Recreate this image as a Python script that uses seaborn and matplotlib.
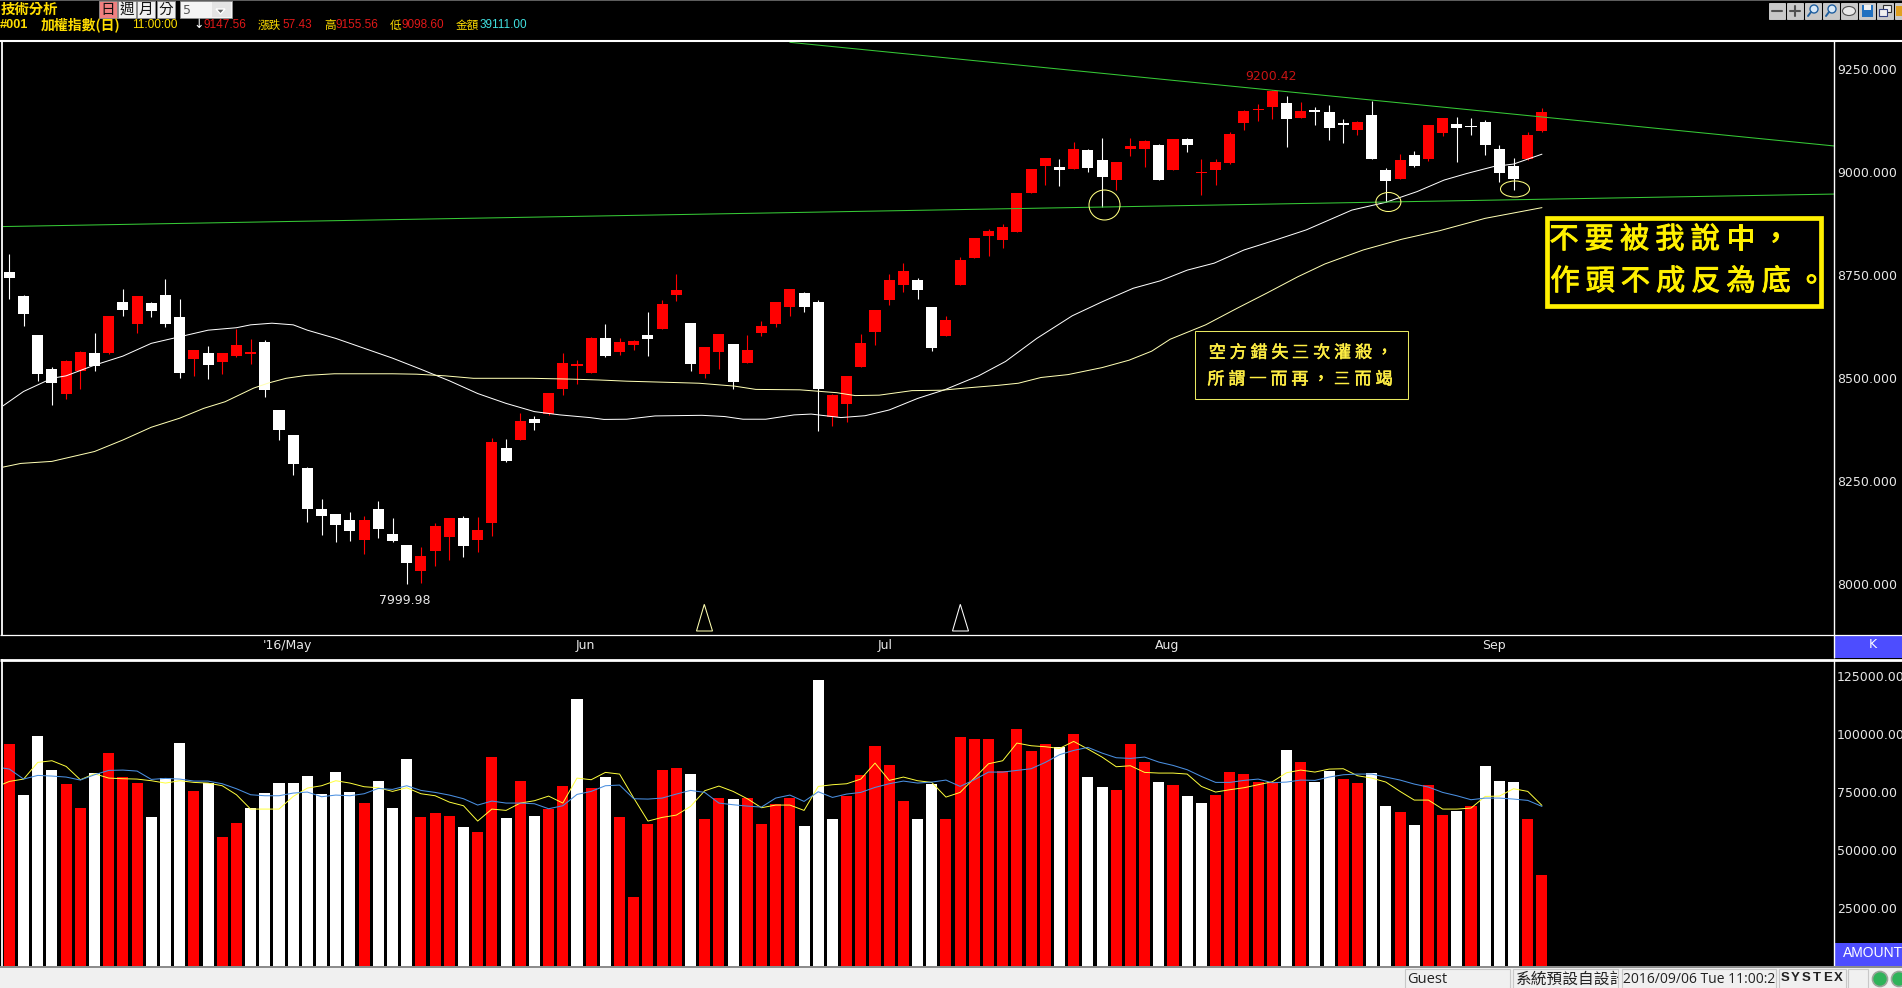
import matplotlib
matplotlib.use("Agg")
import matplotlib.pyplot as plt
import matplotlib.patheffects as pe
from matplotlib.patches import Rectangle, Ellipse, Polygon, Circle
import numpy as np
import pandas as pd
import seaborn as sns

# ---------- data ----------
highs = [8801,8702,8604,8526,8544,8565,8609,8651,8716,8699,8685,8740,8692,8568,8578,8561,8619,8595,8592,8422,8361,8283,8206,8169,8174,8164,8201,8159,8094,8089,8147,8159,8164,8162,8354,8351,8415,8407,8463,8561,8544,8599,8631,8597,8592,
8660,8690,8753,8634,8575,8607,8583,8604,8639,8685,8716,8709,8690,8461,8505,8607,8665,8753,8780,8743,8673,8651,8794,8840,8862,8874,8950,
9008,9035,9032,9074,9057,9083,9025,9083,9079,9069,9081,9083,9032,9032,9098,9151,9166,9200.42,9186,9171,9159,9164,9130,9125,9173,9010,9044,9052,9115,9132,9134,9132,9127,9066,9035,9098,9155.56]
opens = [8758,8699,8604,8522,8461,8517,8561,8561,8685,8631,8682,8702,8648,8546,8561,8539,8553,8558,8587,8422,8361,8281,8181,8169,8155,8106,8181,8120,8094,8030,8079,8113,8159,8106,8147,8330,8349,8400,8412,8473,8529,8512,8597,8563,8580,
8604,8619,8702,8634,8510,8563,8583,8536,8609,8631,8673,8707,8685,8405,8437,8527,8612,8690,8726,8738,8673,8602,8726,8792,8845,8835,8855,
8950,9015,9013,9008,9054,9030,8981,9057,9057,9066,9006,9081,8998,9006,9023,9120,9151,9159,9168,9132,9151,9147,9120,9103,9139,9006,8984,9042,9032,9096,9117,9113,9122,9057,9015,9032,9100]
closes = [8743,8655,8510,8488,8541,8563,8528,8651,8665,8699,8663,8631,8512,8568,8531,8561,8580,8563,8471,8373,8291,8181,8164,8142,8128,8155,8133,8103,8050,8067,8140,8159,8091,8130,8344,8298,8395,8390,8463,8536,8534,8597,8553,8587,8590,
8595,8680,8714,8534,8575,8607,8490,8568,8626,8685,8716,8673,8473,8459,8505,8585,8665,8738,8760,8714,8573,8641,8787,8840,8857,8867,8950,
9008,9035,9006,9057,9010,8988,9025,9064,9076,8981,9081,9066,9001,9025,9093,9149,9154,9198,9130,9149,9147,9108,9115,9122,9032,8979,9030,9015,9115,9132,9108,9110,9066,8998,8984,9091,9147.56]
lows = [8692,8626,8493,8434,8449,8473,8517,8558,8651,8609,8648,8624,8500,8505,8497,8510,8551,8534,8454,8349,8264,8150,8118,8101,8103,8072,8111,8101,7999.98,8001,8043,8057,8065,8077,8116,8296,8349,8373,8410,8458,8485,8512,8551,8556,8568,
8553,8619,8687,8517,8500,8522,8473,8536,8602,8624,8651,8660,8371,8383,8393,8527,8580,8677,8709,8692,8566,8602,8726,8792,8797,8816,8855,
8950,8969,8967,9008,9001,8916,8957,9040,9013,8981,9006,9049,8945,8969,9020,9103,9125,9130,9062,9132,9115,9079,9071,9091,9032,8927,8984,9013,9027,9088,9025,9091,9042,8976,8957,9030,9098.60]

ma_a_x = [.55,2,4,5,7,9,11,13,15,17,18,19.5,21,22,24,26,28,30,32,34,36,38,39.8,41.9,42.9,44.5,46.5,49.8,51.4,52.7,54.3,56.3,57.5,59.6,61.3,63,65,66.9,69.3,71.2,73.4,75.9,78,80.2,82.1,84,85.9,88,90.2,92.4,94,95.6,98,100.2,102.1,103.7,105.6,107,109]
ma_a_y = [8432,8467,8499,8505,8531,8553,8584,8600,8616,8622,8629,8633,8629,8616,8596,8572,8548,8521,8493,8462,8438,8418,8410,8403.5,8399,8399.5,8407.5,8409,8406,8399.5,8399.5,8410,8412,8403.5,8408,8422,8450,8471,8505,8540,8596,8651,8685,8718,8736,8762,8779,8811,8835,8860,8884,8908,8927,8953,8981,8997,9014,9020,9044]
ma_b_x = [.55,1.8,4,7,9,11,13,14.7,16.2,18.2,19.3,20.5,21.9,23.9,28,29.7,31.7,33.7,37.8,40.6,42.5,44.5,47.6,49.6,52.1,53.6,56.7,59.3,60.6,62.3,64.6,66.7,68.6,70.7,72.1,73.7,75.6,78,79.9,81.5,82.8,85.3,87.5,89.6,91.8,93.7,96.4,99.1,101.8,105,109]
ma_b_y = [8283,8292,8297,8321,8349,8380,8402,8426,8442,8475,8488,8499,8506,8510,8510,8509,8505,8499,8499,8497,8495,8492,8489,8487,8480,8472,8471,8464,8457,8458,8469,8470,8476,8482,8487,8501,8508,8525,8543,8565,8594,8629,8669,8706,8746,8777,8811,8837,8858,8888,8914]

trend_down_x = [56, 129.58]
trend_down_y = [9316, 9064]
trend_up_x = [0.55, 129.58]
trend_up_y = [8868, 8947]

amount = [95800,73820,99260,84600,78560,68220,83300,91930,81580,79000,64340,81150,96240,75540,79000,55720,61750,68220,74680,79000,79000,82010,74250,83740,75110,70370,79860,68220,89340,64340,66060,64770,60020,57870,90200,63900,79860,64770,67780,77700,115200,76840,81580,64340,29850,61320,84600,85460,82870,63470,72530,72100,72530,61320,69940,72530,
60460,123400,63470,73390,82440,94940,86750,71240,63470,78560,63470,98820,97960,97960,84170,102270,92790,95810,94510,100120,81580,77270,75980,95810,88050,79420,78130,73390,70370,73820,83740,82870,79420,79420,93220,88050,79420,84170,80720,79000,83300,69080,66490,60890,78130,65200,66920,69080,86320,79860,79420,63470,39111]
amount_colors = list("RWWWRRWRRR" "WWWRWRRWWW" "WWWWWRWWWR" "RRWRRWRWRR" "WRWRRRRRWR" "RWRRRRWWWR" "RRRRWWRRRR" "RRRRWRWWRR" "RWRWWRRRRR" "WRWWRRWWRW" "RRWRWWWRR")
amount_ma5 = [78420,79570,80570,87760,88480,86030,80290,82870,81000,80720,80570,79860,78850,79860,79140,78850,77700,73820,67640,67640,67640,73100,76690,77700,79860,78850,77270,76840,75260,76840,74250,73390,70660,69080,62470,67640,67070,70230,71240,73240,70230,81000,80290,83450,82730,72380,62470,64050,65050,68790,75540,77560,75260,72100,68220,69370,69370,
67070,77410,78130,78560,80570,87470,80000,81440,79860,79140,72810,74830,81000,87180,88480,96090,94940,94510,93790,96810,93510,90060,85890,86320,83450,83160,83160,82730,77410,74970,75980,76840,78130,79420,83300,84450,83590,84880,85030,82010,81000,79280,75260,71520,71520,67640,67640,68070,73100,73240,76410,75260,69220]
amount_ma10 = [85320,84885,80575,82155,81870,81440,80150,82440,84310,84450,84020,80430,80860,80575,79710,79710,78560,76410,73820,73390,73390,74540,74970,72960,73680,73390,74250,76550,76120,77700,75690,74830,73680,72100,69370,71090,70230,70230,69940,67780,69080,73960,75260,77700,77990,72100,71950,72380,74110,75690,74830,70230,69510,68930,68500,72380,73680,
70950,75110,72670,74110,74830,76980,78560,79710,78850,79280,80150,77410,80290,83590,83590,84310,85030,87760,91070,92930,94230,91780,89770,89480,90060,87900,86470,84600,81720,79140,79140,80000,80575,79000,79280,80150,80000,81440,82440,82730,82730,81440,80150,78420,77130,74830,73390,71670,72380,72380,71950,71380,68790]

price_ticks = [8000, 8250, 8500, 8750, 9000, 9250]
amount_ticks = [25000, 50000, 75000, 100000, 125000]
month_pos = [20.6, 41.6, 62.7, 82.6, 105.6]
month_labels = ["'16/May", "Jun", "Jul", "Aug", "Sep"]

# ---------- figure ----------
sns.set_theme(style="dark", rc={"axes.facecolor": "black", "figure.facecolor": "black"})
CJK = ["Noto Sans CJK TC", "DejaVu Sans"]
plt.rcParams["font.family"] = ["DejaVu Sans", "Noto Sans CJK TC"]
W, H = 1902, 988
fig = plt.figure(figsize=(W / 100, H / 100), dpi=100, facecolor="black")

def axes_px(x0, y0, x1, y1, **kw):
    return fig.add_axes([x0 / W, 1 - y1 / H, (x1 - x0) / W, (y1 - y0) / H], **kw)

RED, WHITE = "#ff0000", "#ffffff"
XLIM = (0.55, 129.58)
idx = np.arange(1, len(highs) + 1)

# ---------- price panel ----------
ax = axes_px(3, 41.5, 1834, 634.5)
ax.set_facecolor("black")
df = pd.DataFrame(dict(i=idx, o=opens, h=highs, l=lows, c=closes))
up = df.c >= df.o
ax.vlines(df.i[up], df.l[up], df.h[up], color=RED, lw=0.8, zorder=2)
ax.vlines(df.i[~up], df.l[~up], df.h[~up], color=WHITE, lw=0.8, zorder=2)
ax.bar(df.i, (df.c - df.o).abs(), bottom=df[["o", "c"]].min(axis=1), width=0.78,
       color=[RED if u else WHITE for u in up], linewidth=0, zorder=3)
sns.lineplot(x=ma_a_x, y=ma_a_y, ax=ax, color="#ffffff", lw=0.72, estimator=None, sort=False, legend=False, zorder=4)
sns.lineplot(x=ma_b_x, y=ma_b_y, ax=ax, color="#ffffb4", lw=0.72, estimator=None, sort=False, legend=False, zorder=4)
sns.lineplot(x=trend_down_x, y=trend_down_y, ax=ax, color="#36c836", lw=0.75, estimator=None, sort=False, legend=False, zorder=5)
sns.lineplot(x=trend_up_x, y=trend_up_y, ax=ax, color="#36c836", lw=0.75, estimator=None, sort=False, legend=False, zorder=5)
ax.set_xlim(*XLIM)
ax.set_ylim(7876, 9318)
ax.yaxis.tick_right()
ax.set_yticks(price_ticks, [f"{v:.3f}" for v in price_ticks])
ax.set_xticks(month_pos, month_labels)
ax.tick_params(axis="both", length=0, labelsize=9, colors="#e8e8e8")
ax.tick_params(axis="y", pad=2.2)
ax.tick_params(axis="x", pad=3.0)
ax.set_xlabel(""); ax.set_ylabel("")
ax.grid(False)
for s in ax.spines.values():
    s.set_visible(False)
ax.text(89.9, 9234, "9200.42", color="#c81414", fontsize=9, ha="center", va="center")
ax.text(28.85, 7958, "7999.98", color="#e8e8e8", fontsize=9, ha="center", va="center")

# ---------- amount panel ----------
ax2 = axes_px(3, 660, 1834, 966)
ax2.set_facecolor("black")
dv = pd.DataFrame(dict(i=idx, amount=amount, kind=amount_colors))
sns.barplot(data=dv, x="i", y="amount", hue="kind", palette={"R": RED, "W": WHITE}, native_scale=True,
            dodge=False, width=0.78, saturation=1, errorbar=None, legend=False, linewidth=0, ax=ax2)
xma = [0.55] + list(idx)
sns.lineplot(x=xma, y=amount_ma5, ax=ax2, color="#ffff3c", lw=0.7, estimator=None, sort=False, legend=False, zorder=5)
sns.lineplot(x=xma, y=amount_ma10, ax=ax2, color="#4a8fe0", lw=0.75, estimator=None, sort=False, legend=False, zorder=5)
ax2.set_xlim(*XLIM)
ax2.set_ylim(0, 131900)
ax2.yaxis.tick_right()
ax2.set_yticks(amount_ticks, [f"{v:.2f}" for v in amount_ticks])
ax2.set_xticks([])
ax2.tick_params(axis="y", length=0, labelsize=9, colors="#e8e8e8", pad=2.2)
ax2.set_xlabel(""); ax2.set_ylabel("")
ax2.grid(False)
for s in ax2.spines.values():
    s.set_visible(False)

# ---------- overlay in pixel coordinates: window furniture and hand-drawn notes ----------
ov = axes_px(0, 0, W, H)
ov.set_xlim(0, W); ov.set_ylim(H, 0)
ov.axis("off")
ov.patch.set_alpha(0)

def rect(x0, y0, x1, y1, fc="none", ec="none", lw=0, z=2):
    r = Rectangle((x0, y0), x1 - x0, y1 - y0, facecolor=fc, edgecolor=ec, linewidth=lw, zorder=z)
    ov.add_patch(r)
    return r

def line(xs, ys, c="#ffffff", lw=1.0):
    ov.plot(xs, ys, color=c, lw=lw, solid_capstyle="butt", zorder=3)

line([0, W], [0.5, 0.5], "#707070", 1.2)
line([0, W], [41, 41], WHITE, 1.5)
line([0, W], [634.5, 634.5], WHITE, 0.9)
line([0, W], [659.5, 659.5], WHITE, 2.0)
line([2, 2], [41, 634.5], WHITE, 1.3)
line([2, 2], [659, 966], WHITE, 1.3)
line([1834, 1834], [41, 658], WHITE, 1.0)
line([1834, 1834], [659, 966], WHITE, 1.0)

# right-hand tags
rect(1835, 635.2, W, 658, fc="#4d4dff")
ov.text(1873, 644, "K", color="white", fontsize=9, ha="center", va="center", zorder=4)
rect(1835, 943, W, 966, fc="#4d4dff")
ov.text(1873, 953, "AMOUNT", color="white", fontsize=10, family="Liberation Sans", ha="center", va="center", zorder=4)

# status bar
rect(0, 966, W, H, fc="#f0f0f0")
line([0, W], [967, 967], "#8a8a8a", 1.4)
for x0, x1 in [(1405, 1510), (1513, 1618), (1622, 1776), (1779, 1846), (1848, 1868)]:
    rect(x0, 969, x1, 990, fc="#f0f0f0", ec="#c8c8c8", lw=0.8)
ov.text(1407, 979, "Guest", color="#222222", fontsize=10.5, family="Open Sans", va="center", zorder=4)
clip = rect(1513, 966, 1618, H)
t = ov.text(1516, 979, "系統預設自設計", color="#222222", fontsize=11.3, family=CJK, va="center", zorder=4)
t.set_clip_path(clip); t.set_clip_on(True)
ov.text(1623, 979, "2016/09/06 Tue 11:00:2", color="#222222", fontsize=10, family="Open Sans", va="center", zorder=4)
for ch, x in zip("SYSTEX", np.linspace(1785, 1838, 6)):
    ov.text(x, 978, ch, color="#222222", fontsize=9.5, family="Liberation Sans", weight="bold", ha="center", va="center", zorder=4)
for x in (1880, 1899):
    ov.add_patch(Circle((x, 979), 7.5, facecolor="#2fb35a", edgecolor="#9aa59a", lw=1.2, zorder=4))

# header row 1
YEL = "#ffdd00"
ov.text(1, 10, "技術分析", color=YEL, fontsize=10.4, family=CJK, weight="bold", va="center", zorder=4)
for ch, x0, bg in [("日", 99, "#f08080"), ("週", 118, "#f0f0f0"), ("月", 137, "#f0f0f0"), ("分", 157, "#f0f0f0")]:
    rect(x0, 1, x0 + 18, 18, fc=bg, ec="#909090", lw=0.6)
    ov.text(x0 + 9, 10, ch, color="#111111", fontsize=10.5, family=CJK, ha="center", va="center", zorder=4)
rect(180, 1, 232, 18, fc="#f4f4f4", ec="#909090", lw=0.6)
rect(212, 2, 231, 17, fc="#e4e4e4")
ov.add_patch(Polygon([[216, 9], [225, 9], [220.5, 14]], closed=True, fc="#606060", zorder=4))
ov.text(183, 10, "5", color="#555555", fontsize=9, va="center", zorder=4)

# header row 2
LS = "Liberation Sans"
hdr = [(0, "#001", YEL, LS, 9.2, "bold"), (41, "加權指數(日)", YEL, CJK, 10, "bold"), (132, "11:00:00", YEL, LS, 8.6, "normal"),
       (193, "↓", "white", "DejaVu Sans", 9, "normal"), (203, "9147.56", "#e01818", LS, 8.5, "normal"),
       (258, "漲跌", YEL, CJK, 8.4, "normal"), (282, "57.43", "#e01818", LS, 8.5, "normal"),
       (324, "高", YEL, CJK, 8.4, "normal"), (335, "9155.56", "#e01818", LS, 8.5, "normal"),
       (390, "低", YEL, CJK, 8.4, "normal"), (401, "9098.60", "#e01818", LS, 8.5, "normal"),
       (456, "金額", YEL, CJK, 8.4, "normal"), (480, "39111.00", "#40e0e0", LS, 8.5, "normal")]
for x, s, c, fam, fs, wt in hdr:
    ov.text(x, 25, s, color=c, fontsize=fs, family=fam, weight=wt, va="center", zorder=4)

# toolbar buttons
for k, x0 in enumerate([1769, 1787, 1805, 1823, 1841, 1859, 1877, 1895]):
    rect(x0, 3, x0 + 16, 19, fc="#c8c8c8", ec="#eeeeee", lw=0.5)
    if k == 0:
        ov.plot([x0 + 3, x0 + 13], [11, 11], color="#505050", lw=1.5, zorder=4)
    elif k == 1:
        ov.plot([x0 + 3, x0 + 13], [11, 11], color="#505050", lw=1.5, zorder=4)
        ov.plot([x0 + 8, x0 + 8], [6, 16], color="#505050", lw=1.5, zorder=4)
    elif k in (2, 3):
        ov.add_patch(Circle((x0 + 9, 9), 4, fc="#d8e8f8", ec="#2060a0", lw=1, zorder=4))
        ov.plot([x0 + 6, x0 + 3], [12, 16], color="#2060a0", lw=1.4, zorder=4)
    elif k == 4:
        ov.add_patch(Ellipse((x0 + 8, 11), 13, 9, fc="#e8e8e8", ec="#505050", lw=0.8, zorder=4))
    elif k == 5:
        rect(x0 + 3, 5, x0 + 14, 17, fc="#2070c0", z=4)
        rect(x0 + 5, 5, x0 + 12, 10, fc="#f0f0f0", z=5)
    elif k == 6:
        rect(x0 + 6, 5, x0 + 14, 12, fc="#f0f0f0", ec="#303030", lw=0.8, z=4)
        rect(x0 + 2, 9, x0 + 10, 16, fc="#f0f0f0", ec="#304080", lw=0.8, z=5)
    else:
        rect(x0 + 1, 6, x0 + 7, 16, fc="#e0a020", z=4)

# hand-drawn notes
for cx, cy, w, h in [(1104.5, 205, 31, 30), (1388.4, 202, 25, 19), (1515, 189, 29, 16)]:
    ov.add_patch(Ellipse((cx, cy), w, h, fc="none", ec="#ffff80", lw=0.75, zorder=6))
ov.add_patch(Polygon([[696.5, 631], [704.3, 604.3], [712.5, 631]], closed=True, fc="none", ec="#ffffb0", lw=0.75, zorder=6))
ov.add_patch(Polygon([[952.5, 631], [960.3, 604.3], [968.5, 631]], closed=True, fc="none", ec="#ffffff", lw=0.75, zorder=6))

def spaced(text, x0, y, step, size, color, stroke):
    for k, ch in enumerate(text):
        tx = ov.text(x0 + k * step, y, ch, color=color, fontsize=size, family=CJK, ha="center", va="center", zorder=7)
        tx.set_path_effects([pe.withStroke(linewidth=stroke, foreground=color)])

rect(1546.5, 218, 1820.5, 306, ec="#fff000", lw=3.4, z=6)
spaced("不要被我說中，", 1564, 240, 35.3, 21, "#fff000", 0.7)
spaced("作頭不成反為底。", 1565, 282, 35.2, 21, "#fff000", 0.7)
rect(1195.3, 331.3, 1407.7, 399.3, ec="#e8e860", lw=0.75, z=6)
spaced("空方錯失三次灌殺，", 1217.3, 352.7, 20.9, 12.3, "#ffee44", 0.35)
spaced("所謂一而再，三而竭", 1216, 379.3, 21, 12.3, "#ffee44", 0.35)

fig.savefig("out.png", dpi=100, facecolor="black")
